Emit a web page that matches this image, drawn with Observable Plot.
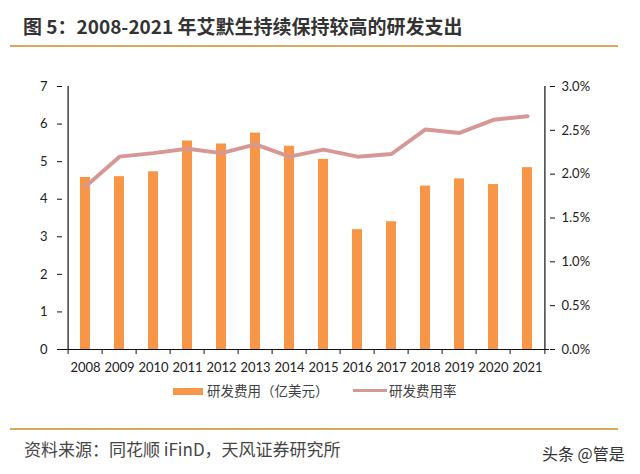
<!DOCTYPE html>
<html>
<head>
<meta charset="utf-8">
<script src="https://cdn.jsdelivr.net/npm/d3@7"></script>
<script src="https://cdn.jsdelivr.net/npm/@observablehq/plot@0.6"></script>
<style>
  html, body { margin: 0; padding: 0; background: #ffffff; }
  #wrap { position: relative; width: 640px; height: 474px; overflow: hidden; background: #ffffff; }
  #chart { position: absolute; left: 0; top: 0; }
  .abs { position: absolute; white-space: nowrap; }
  .title { left: 23px; top: 15px; font: bold 19px/21px "Noto Sans CJK SC", sans-serif; color: #333333; }
  .rule { left: 10px; width: 608px; height: 2px; background: #d8aa5e; }
  .leg { font: 13.5px/15px "Noto Sans CJK SC", sans-serif; color: #404040; }
  .src { left: 24px; top: 439px; font: 17px/19px "Noto Sans CJK SC", sans-serif; color: #454545; }
  .wm { left: 542px; top: 444px; font: 16px/18px "Noto Sans CJK SC", sans-serif; color: #333333; }
</style>
</head>
<body>
<div id="wrap">
  <div id="chart"></div>
  <div class="abs title">图 5：2008-2021 年艾默生持续保持较高的研发支出</div>
  <div class="abs rule" style="top:45px"></div>
  <div class="abs" style="left:173px;top:388px;width:30px;height:7px;background:#f79646"></div>
  <div class="abs leg" style="left:207px;top:383px">研发费用（亿美元）</div>
  <div class="abs" style="left:353px;top:389px;width:34px;height:3px;background:#d69895"></div>
  <div class="abs leg" style="left:389px;top:383px">研发费用率</div>
  <div class="abs rule" style="top:428px"></div>
  <div class="abs src">资料来源：同花顺 iFinD，天风证券研究所</div>
  <div class="abs wm">头条 @管是</div>
</div>
<script>
const years = ["2008","2009","2010","2011","2012","2013","2014","2015","2016","2017","2018","2019","2020","2021"];
const rdSpend = [4.58, 4.60, 4.73, 5.55, 5.47, 5.76, 5.41, 5.06, 3.19, 3.40, 4.35, 4.54, 4.39, 4.84];
const rdRate = [1.86, 2.20, 2.24, 2.29, 2.24, 2.34, 2.20, 2.28, 2.20, 2.23, 2.51, 2.47, 2.62, 2.66];
const leftTicks = [0, 1, 2, 3, 4, 5, 6, 7];
const rightTicks = [0, 0.5, 1.0, 1.5, 2.0, 2.5, 3.0];

const leftMax = 7, rightMax = 3;
const data = years.map((y, i) => ({year: y, spend: rdSpend[i], rate: rdRate[i]}));
const toLeft = p => p / rightMax * leftMax;

const W = 640, H = 474, mL = 62, mR = 91, mT = 86, mB = 125;
const step = (W - mL - mR) / years.length;
const half = step / 2;

const chart = Plot.plot({
  width: W,
  height: H,
  marginLeft: mL,
  marginRight: mR,
  marginTop: mT,
  marginBottom: mB,
  style: {fontFamily: "Lato, 'Open Sans', sans-serif", fontSize: "13px", color: "#222222", background: "transparent"},
  x: {type: "band", domain: years, padding: 0, axis: null, label: null},
  y: {domain: [0, leftMax], axis: null, label: null},
  marks: [
    Plot.barY(data, {x: "year", y: "spend", fill: "#f79646", insetLeft: 12, insetRight: 12}),
    Plot.lineY(data, {x: "year", y: d => toLeft(d.rate), stroke: "#d69895", strokeWidth: 4, strokeLinejoin: "round"}),
    Plot.ruleY([0], {stroke: "#111", strokeWidth: 1.2}),
    Plot.ruleX([years[0]], {dx: -half, y1: 0, y2: leftMax, stroke: "#111", strokeWidth: 1.2}),
    Plot.ruleX([years[years.length - 1]], {dx: half, y1: 0, y2: leftMax, stroke: "#111", strokeWidth: 1.2}),
    Plot.axisY({anchor: "left", label: null, ticks: leftTicks, tickSize: 5, tickPadding: 10, tickFormat: d => String(d), stroke: "#111"}),
    Plot.axisY({anchor: "right", label: null, ticks: rightTicks.map(toLeft), tickSize: 5, tickPadding: 7,
      tickFormat: d => (d / leftMax * rightMax).toFixed(1) + "%", stroke: "#111"}),
    Plot.axisX({label: null, tickSize: 0, tickPadding: 13}),
    Plot.axisX({label: null, tickSize: 5, dx: -half, tickFormat: () => "", stroke: "#111"}),
    Plot.axisX({label: null, ticks: [years[years.length - 1]], tickSize: 5, dx: half, tickFormat: () => "", stroke: "#111"})
  ]
});
document.getElementById("chart").appendChild(chart);
</script>
</body>
</html>
